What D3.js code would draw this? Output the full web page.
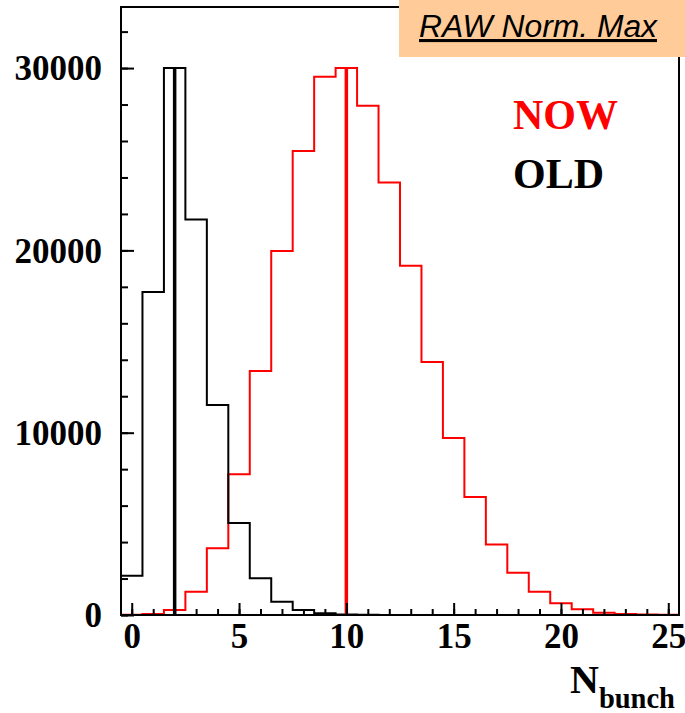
<!DOCTYPE html>
<html>
<head>
<meta charset="utf-8">
<script src="https://cdn.jsdelivr.net/npm/d3@7"></script>
<style>
  html, body { margin: 0; padding: 0; background: #fff; }
  svg { display: block; }
</style>
</head>
<body>
<svg id="chart" width="685" height="713"></svg>
<script>
// ---- data ----
const bins = d3.range(0, 26); // bin centres 0..25, width 1
const nowValues = [20, 60, 280, 1280, 3660, 7720, 13390, 19970, 25450, 29530, 30000, 27940,
                   23730, 19160, 13880, 9710, 6470, 3870, 2320, 1280, 640, 310, 130, 50, 30, 20];
const oldValues = [2150, 17720, 30000, 21700, 11520, 5050, 2010, 730, 275, 100, 30, 10,
                   0, 0, 0, 0, 0, 0, 0, 0, 0, 0, 0, 0, 0, 0];
const nowMax = 10;
const oldMax = 2;
const xMajorTicks = [0, 5, 10, 15, 20, 25];
const xMinorTicks = d3.range(0, 26);
const yMajorTicks = [0, 10000, 20000, 30000];
const yMinorTicks = d3.range(0, 33001, 2000);
const title = "RAW Norm. Max";
const legendNow = "NOW";
const legendOld = "OLD";

// ---- layout ----
const svg = d3.select("#chart");
const fLeft = 121, fRight = 679, fTop = 7, fBottom = 615;
const x = d3.scaleLinear().domain([-0.5, 25.5]).range([fLeft, fRight]);
const y = d3.scaleLinear().domain([0, 33350]).range([fBottom, fTop]);

function histPath(vals) {
  const pts = [[x(-0.5), y(0)]];
  bins.forEach((b, i) => {
    pts.push([x(b - 0.5), y(vals[i])]);
    pts.push([x(b + 0.5), y(vals[i])]);
  });
  pts.push([x(25.5), y(0)]);
  return d3.line()(pts);
}

// histograms
svg.append("path").attr("d", histPath(nowValues))
  .attr("fill", "none").attr("stroke", "#ff0000").attr("stroke-width", 2);
svg.append("path").attr("d", histPath(oldValues))
  .attr("fill", "none").attr("stroke", "#000").attr("stroke-width", 2);

// max marker lines
svg.append("line")
  .attr("x1", x(nowMax)).attr("x2", x(nowMax))
  .attr("y1", y(0)).attr("y2", y(nowValues[nowMax]))
  .attr("stroke", "#ff0000").attr("stroke-width", 3.5);
svg.append("line")
  .attr("x1", x(oldMax)).attr("x2", x(oldMax))
  .attr("y1", y(0)).attr("y2", y(oldValues[oldMax]))
  .attr("stroke", "#000").attr("stroke-width", 3.5);

// frame
svg.append("rect").attr("x", fLeft).attr("y", fTop)
  .attr("width", fRight - fLeft).attr("height", fBottom - fTop)
  .attr("fill", "none").attr("stroke", "#000").attr("stroke-width", 2);

// x axis (ticks inside)
const xMinor = svg.append("g").attr("transform", `translate(0,${fBottom})`)
  .call(d3.axisBottom(x).tickValues(xMinorTicks).tickSize(-6).tickFormat(""));
const xMajor = svg.append("g").attr("transform", `translate(0,${fBottom})`)
  .call(d3.axisBottom(x).tickValues(xMajorTicks).tickSize(-12).tickFormat(d3.format("d")));
[xMinor, xMajor].forEach(g => {
  g.select(".domain").remove();
  g.selectAll(".tick line").attr("stroke", "#000").attr("stroke-width", 2);
});
xMajor.selectAll(".tick text")
  .attr("font-family", "'Liberation Serif', 'Times New Roman', serif")
  .attr("font-weight", "bold").attr("font-size", 35).attr("fill", "#000")
  .attr("y", 33).attr("dy", null);

// y axis (ticks inside)
const yMinor = svg.append("g").attr("transform", `translate(${fLeft},0)`)
  .call(d3.axisLeft(y).tickValues(yMinorTicks).tickSize(-7).tickFormat(""));
const yMajor = svg.append("g").attr("transform", `translate(${fLeft},0)`)
  .call(d3.axisLeft(y).tickValues(yMajorTicks).tickSize(-13).tickFormat(d3.format("d")));
[yMinor, yMajor].forEach(g => {
  g.select(".domain").remove();
  g.selectAll(".tick line").attr("stroke", "#000").attr("stroke-width", 2);
});
yMajor.selectAll(".tick text")
  .attr("font-family", "'Liberation Serif', 'Times New Roman', serif")
  .attr("font-weight", "bold").attr("font-size", 35).attr("fill", "#000")
  .attr("x", -19).attr("dy", "0.34em");

// x axis title
const xt = svg.append("text")
  .attr("x", 570).attr("y", 693)
  .attr("font-family", "'Liberation Serif', 'Times New Roman', serif")
  .attr("font-weight", "bold").attr("fill", "#000");
xt.append("tspan").attr("font-size", 40).text("N");
xt.append("tspan").attr("font-size", 28.5).attr("dy", 15).text("bunch");

// title box
svg.append("rect").attr("x", 399).attr("y", 0).attr("width", 286).attr("height", 57)
  .attr("fill", "#ffcc99");
svg.append("text").attr("x", 419).attr("y", 37)
  .attr("font-family", "'Liberation Sans', Arial, sans-serif")
  .attr("font-style", "italic").attr("font-size", 31).attr("fill", "#000")
  .attr("textLength", 238).attr("lengthAdjust", "spacingAndGlyphs")
  .attr("text-decoration", "underline")
  .text(title);

// legend text
svg.append("text").attr("x", 513).attr("y", 129)
  .attr("font-family", "'Liberation Serif', 'Times New Roman', serif")
  .attr("font-weight", "bold").attr("font-size", 42).attr("fill", "#ff0000")
  .text(legendNow);
svg.append("text").attr("x", 513).attr("y", 188)
  .attr("font-family", "'Liberation Serif', 'Times New Roman', serif")
  .attr("font-weight", "bold").attr("font-size", 42).attr("fill", "#000")
  .text(legendOld);
</script>
</body>
</html>
